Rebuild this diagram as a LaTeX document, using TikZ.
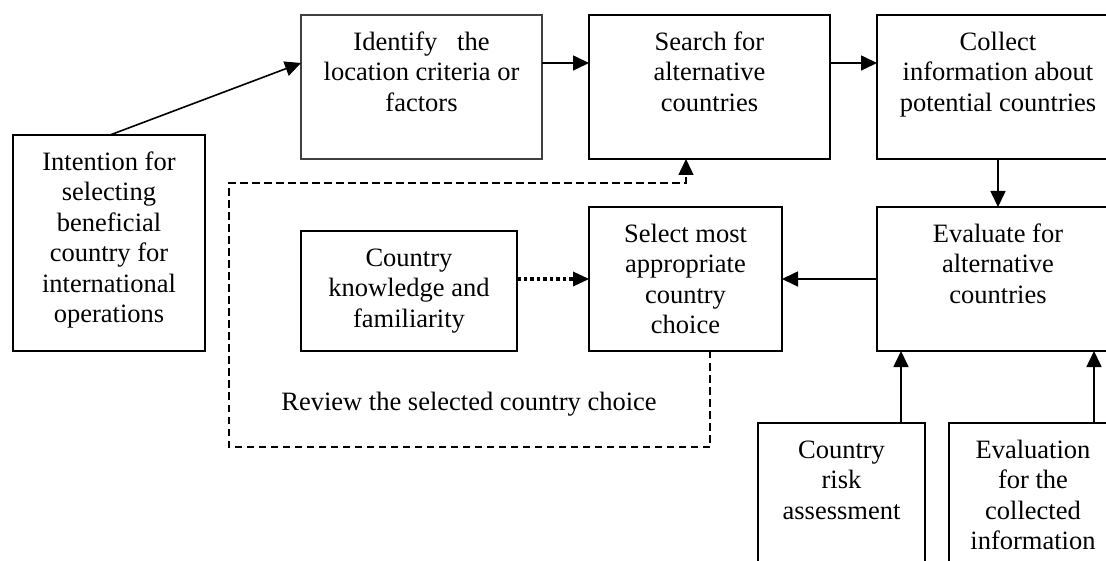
\documentclass[tikz,border=0pt]{standalone}
\usepackage{fontspec}
\setmainfont{Liberation Serif}
\usetikzlibrary{arrows.meta}
\begin{document}
\begin{tikzpicture}[x=1pt,y=-1pt,
  box/.style={draw=black, line width=1.6pt, inner sep=0pt, outer sep=0pt},
  lbl/.style={anchor=north, align=center, inner sep=0pt, font=\fontsize{26.5}{30.5}\selectfont},
  tip/.style={-{Triangle[length=16pt,width=15pt]}},
  arr/.style={line width=1.6pt, tip},
  dsh/.style={line width=1.4pt, dash pattern=on 7.5pt off 4.5pt, tip},
  dotarr/.style={line width=4pt, dash pattern=on 3.5pt off 3pt, -{Triangle[length=16pt,width=15pt,line width=0pt]}}
]
\useasboundingbox (0,0) rectangle (1106,561);
\clip (0,0) rectangle (1106,561);
\fill[white] (0,0) rectangle (1106,561);

% boxes
\node[box, minimum width=192pt, minimum height=216pt] (intent) at (109,243) {};
\node[box, draw=black!75, line width=1.3pt, minimum width=241pt, minimum height=144pt] (ident) at (421.5,87) {};
\node[box, minimum width=241pt, minimum height=144pt] (search) at (709.5,87) {};
\node[box, minimum width=242pt, minimum height=144pt] (collect) at (998,87) {};
\node[box, minimum width=242pt, minimum height=144pt] (evaluate) at (998,279) {};
\node[box, minimum width=193pt, minimum height=144pt] (select) at (685.5,279) {};
\node[box, minimum width=216pt, minimum height=120pt] (know) at (409,291) {};
\node[box, minimum width=167pt, minimum height=177pt] (risk) at (841.5,511.5) {};
\node[box, minimum width=168pt, minimum height=177pt] (evalinfo) at (1033,511.5) {};

% labels
\node[lbl] (intentT) at ([yshift=-13.6pt]intent.north) {\strut Intention for\\selecting\\beneficial\\country for\\international\\operations};
\node[lbl] (identT) at ([yshift=-13.6pt]ident.north) {\strut Identify\ \ \ the\\location criteria or\\factors};
\node[lbl] (searchT) at ([yshift=-13.6pt]search.north) {\strut Search for\\alternative\\countries};
\node[lbl] (collectT) at ([yshift=-13.6pt]collect.north) {\strut Collect\\information about\\potential countries};
\node[lbl] (evaluateT) at ([yshift=-13.6pt]evaluate.north) {\strut Evaluate for\\alternative\\countries};
\node[lbl] (selectT) at ([yshift=-13.6pt]select.north) {\strut Select most\\appropriate\\country\\choice};
\node[lbl] (knowT) at ([yshift=-13.6pt]know.north) {\strut Country\\knowledge and\\familiarity};
\node[lbl] (riskT) at ([yshift=-13.6pt]risk.north) {\strut Country\\risk\\assessment};
\node[lbl] (evalinfoT) at ([yshift=-13.6pt]evalinfo.north) {\strut Evaluation\\for the\\collected\\information};
\node[lbl, anchor=base] (review) at (469,410) {Review the selected country choice};

% connectors
\draw[arr] ([xshift=1pt]intent.north) -- ([yshift=24pt]ident.west);
\draw[arr] ([yshift=24pt]ident.east) -- ([yshift=24pt]search.west);
\draw[arr] ([yshift=24pt]search.east) -- ([yshift=24pt]collect.west);
\draw[arr] (collect.south) -- (evaluate.north);
\draw[arr] (evaluate.west) -- (select.east);
\draw[dotarr] (know.east |- select.west) -- (select.west);
\draw[arr] ([xshift=59.5pt]risk.north) -- ([xshift=59.5pt]risk.north |- evaluate.south);
\draw[arr] ([xshift=61pt]evalinfo.north) -- ([xshift=61pt]evalinfo.north |- evaluate.south);

\coordinate (loopBL) at (229,447);
\coordinate (loopTL) at (229,183);
\draw[dsh] ([xshift=24.5pt]select.south) |- (loopBL) -- (loopTL) -| ([xshift=-23.5pt]search.south);
\end{tikzpicture}
\end{document}
